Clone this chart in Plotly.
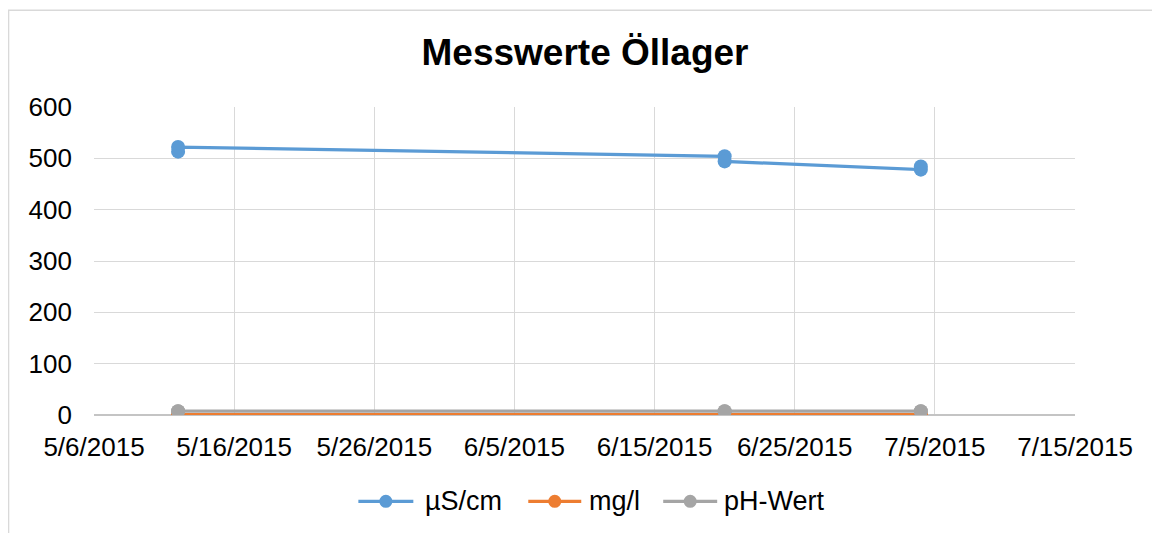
import plotly.graph_objects as go

dates = ["2015-05-12", "2015-05-12", "2015-06-20", "2015-06-20", "2015-07-04", "2015-07-04"]
us_cm = [513, 522, 504, 494, 478, 484]
mg_l = [0.6, 0.5, 0.6, 0.5, 0.6, 0.5]
ph = [7.4, 7.5, 7.3, 7.5, 7.4, 7.5]

series_names = ["µS/cm", "mg/l", "pH-Wert"]
series_values = [us_cm, mg_l, ph]
series_colors = ["#5B9BD5", "#ED7D31", "#A5A5A5"]

OFF = 8  # page body margin
W, H = 1160, 533
# plot area in page pixels
PL, PR, PT, PB = 93.5, 1075, 107, 415.5
L, T = PL - OFF, PT - OFF
R = W - (PR - OFF)
B = H - (PB - OFF)
pw, ph_ = PR - PL, PB - PT


def px(p):
    return (p - PL) / pw


def py(p):
    return (PB - p) / ph_


fig = go.Figure()
for name, vals, color in zip(series_names, series_values, series_colors):
    fig.add_trace(go.Scatter(
        x=dates, y=vals, name=name, mode="lines+markers",
        line=dict(color=color, width=3.2),
        marker=dict(color=color, size=14),
        showlegend=False,
    ))

font_family = "Arial, Liberation Sans, sans-serif"

shapes = [dict(type="rect", xref="paper", yref="paper",
               x0=px(8), x1=px(W + 40), y0=py(H + 40), y1=py(10),
               line=dict(color="#d9d9d9", width=1.5), fillcolor="rgba(0,0,0,0)",
               layer="below")]
annotations = []

# custom legend (page pixel positions of each entry)
leg_y = 502
leg_line_x = [(358, 413), (528, 581), (663, 717)]
leg_text_x = [423, 587, 722]
for name, color, (x0, x1), tx in zip(series_names, series_colors, leg_line_x, leg_text_x):
    shapes.append(dict(type="line", xref="paper", yref="paper",
                       x0=px(x0), x1=px(x1), y0=py(leg_y), y1=py(leg_y),
                       line=dict(color=color, width=3.2), layer="above"))
    cx = (x0 + x1) / 2
    shapes.append(dict(type="circle", xref="paper", yref="paper",
                       xsizemode="pixel", ysizemode="pixel",
                       xanchor=px(cx), yanchor=py(leg_y),
                       x0=-6.5, x1=6.5, y0=-6.5, y1=6.5,
                       line=dict(color=color, width=0), fillcolor=color,
                       layer="above"))
    annotations.append(dict(text=name, xref="paper", yref="paper",
                            x=px(tx), y=py(leg_y), xanchor="left", yanchor="middle",
                            showarrow=False, font=dict(size=27, color="#000000")))

fig.update_layout(
    width=W, height=H,
    margin=dict(l=L, r=R, t=T, b=B),
    paper_bgcolor="white", plot_bgcolor="white",
    font=dict(family=font_family, size=26, color="#000000"),
    title=dict(text="<b>Messwerte Öllager</b>", x=(585 - OFF) / W, xanchor="center",
               y=1 - (52 - OFF) / H, yanchor="middle", yref="container", xref="container",
               font=dict(size=37, color="#000000")),
    showlegend=False,
    xaxis=dict(type="date", range=["2015-05-06", "2015-07-15"],
               tick0="2015-05-06", dtick=10 * 86400000,
               tickformat="%-m/%-d/%Y", showgrid=True, gridcolor="#d9d9d9",
               gridwidth=1, showline=False, zeroline=False, ticks="",
               ticklabelstandoff=14, tickfont=dict(size=26)),
    yaxis=dict(range=[0, 600], dtick=100, showgrid=True, gridcolor="#d9d9d9",
               gridwidth=1, zeroline=True, zerolinecolor="#c4c4c4", zerolinewidth=1.5,
               showline=False, ticks="", ticklabelstandoff=21,
               tickfont=dict(size=26)),
    shapes=shapes,
    annotations=annotations,
)

fig.write_html("out.html")
